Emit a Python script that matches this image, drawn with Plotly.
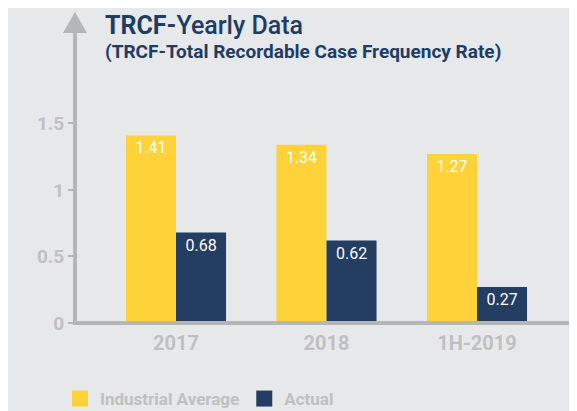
import plotly.graph_objects as go

categories = ["2017", "2018", "1H-2019"]
industrial_average = [1.41, 1.34, 1.27]
actual = [0.68, 0.62, 0.27]
series_names = ["Industrial Average", "Actual"]
y_tick_vals = [0, 0.5, 1, 1.5]
y_tick_text = ["0", "0.5", "1", "1.5"]

BG = "#e7e8ea"
YELLOW = "#fed33a"
NAVY = "#233d63"
AXIS = "#b5b6b8"
TICK = "#bfc0c2"
TITLE = "#213c63"
FONT = "Roboto"

OFF = 8  # browser default body margin
W, H = 577, 411
ML, MR = 75 - OFF, 0
MT = 35 - OFF
MB = H - (323 - OFF)
PW = W - ML - MR
PH = H - MT - MB

fig = go.Figure()
for name, vals, color in zip(series_names, [industrial_average, actual], [YELLOW, NAVY]):
    fig.add_trace(go.Bar(
        x=categories, y=vals, name=name, legendgroup=name, showlegend=False,
        marker=dict(color=color, line=dict(width=0)),
        texttemplate="%{y:.2f}", textposition="inside", insidetextanchor="end",
        textfont=dict(color="white", size=16, family=FONT),
    ))
for name, color in zip(series_names, [YELLOW, NAVY]):
    fig.add_trace(go.Scatter(
        x=[None], y=[None], mode="markers", name=name, legendgroup=name,
        marker=dict(symbol="square", size=21, color=color),
        showlegend=True, hoverinfo="skip",
    ))

def px(xp):
    return (xp - OFF - ML) / PW

def py(yp):
    return (H - MB - (yp - OFF)) / PH

shapes = [
    dict(type="line", xref="paper", yref="paper", x0=0, x1=0, y0=0, y1=py(33),
         line=dict(color=AXIS, width=4)),
    dict(type="line", xref="paper", yref="paper", x0=px(73), x1=px(573), y0=0, y1=0,
         line=dict(color=AXIS, width=4)),
    dict(type="path", xref="paper", yref="paper",
         path=f"M {px(63)} {py(33)} L {px(87)} {py(33)} L {px(75)} {py(12)} Z",
         fillcolor=AXIS, line=dict(width=0)),
    dict(type="path", xref="paper", yref="paper",
         path=f"M {px(572)} {py(311)} L {px(572)} {py(335)} L {px(592)} {py(323)} Z",
         fillcolor=AXIS, line=dict(width=0)),
]

annotations = [
    dict(text="<b>TRCF-</b><span style='font-weight:500'>Yearly Data</span>",
         xref="paper", yref="paper", x=px(104), y=py(41), xanchor="left", yanchor="bottom",
         showarrow=False, borderpad=0,
         font=dict(family=FONT, size=25, color=TITLE, weight=500)),
    dict(text="<b>(TRCF-Total Recordable Case Frequency Rate)</b>",
         xref="paper", yref="paper", x=px(104), y=py(64), xanchor="left", yanchor="bottom",
         showarrow=False, borderpad=0,
         font=dict(family=FONT, size=19, color=TITLE)),
]

cat_w = 150.5
x_start = -(px(176) * PW) / cat_w
x_end = x_start + PW / cat_w

fig.update_layout(
    width=W, height=H,
    margin=dict(l=ML, r=MR, t=MT, b=MB, autoexpand=False),
    paper_bgcolor=BG, plot_bgcolor=BG,
    barmode="group", bargap=0.335, bargroupgap=0,
    font=dict(family=FONT),
    shapes=shapes, annotations=annotations,
    showlegend=True,
    legend=dict(orientation="h", x=px(60), xanchor="left", y=py(399), yanchor="middle",
                font=dict(family=FONT, size=17, color=TICK, weight="bold"),
                bgcolor="rgba(0,0,0,0)", itemwidth=30, traceorder="normal"),
    xaxis=dict(range=[x_start, x_end], showline=False, showgrid=False, zeroline=False,
               automargin=False,
               ticks="outside", ticklen=2, tickcolor="rgba(0,0,0,0)",
               tickfont=dict(family=FONT, size=20, color=TICK, weight="bold")),
    yaxis=dict(range=[0, 2.165], tickvals=y_tick_vals, ticktext=y_tick_text,
               showline=False, showgrid=False, zeroline=False, automargin=False,
               ticks="outside", ticklen=6, tickwidth=2, tickcolor=AXIS,
               tickfont=dict(family=FONT, size=19, color=TICK, weight="bold")),
)

fig.write_html("out.html")
